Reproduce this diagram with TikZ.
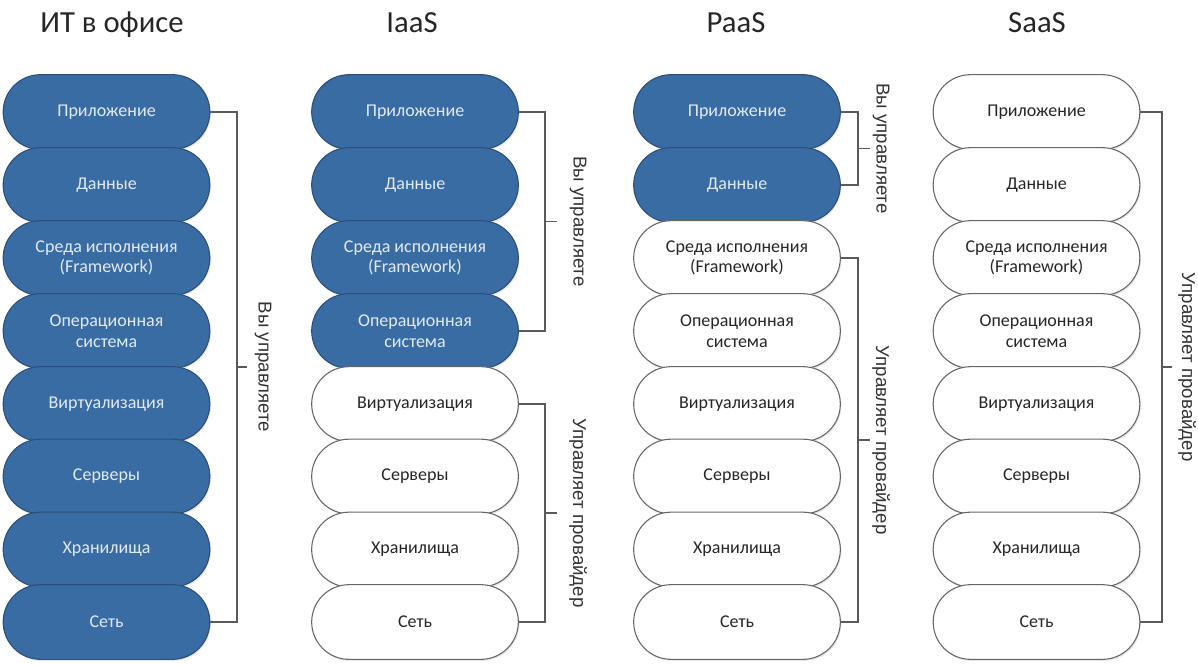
\documentclass[tikz,border=0pt]{standalone}
\usepackage{fontspec}
\setmainfont{Carlito}
\newfontfamily\lblfont{Liberation Sans}
\usepackage{tikz}
\usetikzlibrary{shapes.misc}
\usetikzlibrary{shadows}
\usetikzlibrary{positioning}
\definecolor{layerblue}{RGB}{58,108,164}
\definecolor{layeredge}{RGB}{44,78,120}
\definecolor{layertext}{RGB}{225,234,244}
\definecolor{lineGray}{RGB}{90,90,90}
\tikzset{
  % common look of the stack layers
  layer/.style={rounded rectangle, minimum width=155pt, minimum height=56pt,
                inner sep=0pt, align=center, font=\fontsize{13.5}{15.5}\selectfont,
                drop shadow={opacity=0.18, shadow xshift=0.8pt, shadow yshift=-1.2pt}},
  mine/.style={layer, fill=layerblue, draw=layeredge, line width=0.8pt, text=layertext},
  theirs/.style={layer, fill=white, draw=black!60, line width=0.8pt, text=black!85}
}

\begin{document}
\begin{tikzpicture}[
    x=0.75pt, y=-0.75pt,
    title/.style={anchor=base, font=\fontsize{23}{26}\selectfont, text=black!85},
    brk/.style={draw=lineGray, line width=0.9pt},
    lbl/.style={rotate=-90, font=\lblfont\fontsize{14}{16}\selectfont, text=black!80}
]
\useasboundingbox (0,0) rectangle (1198,664);

% Titles
\node[title] (tOff) at (112,32) {ИТ в офисе};
\node[title] (tIaas) at (412,32) {IaaS};
\node[title] (tPaas) at (736,32) {PaaS};
\node[title] (tSaas) at (1037,32) {SaaS};

% IT in the office
\node[mine] (off1) at (106.5,112) {Приложение};
\node[mine] (off2) at (106.5,185) {Данные};
\node[mine] (off3) at (106.5,258) {Среда исполнения\\(Framework)};
\node[mine] (off4) at (106.5,331) {Операционная\\система};
\node[mine] (off5) at (106.5,404) {Виртуализация};
\node[mine] (off6) at (106.5,476.5) {Серверы};
\node[mine] (off7) at (106.5,549.5) {Хранилища};
\node[mine] (off8) at (106.5,622) {Сеть};

% IaaS
\node[mine] (iaas1) at (415,112) {Приложение};
\node[mine] (iaas2) at (415,185) {Данные};
\node[mine] (iaas3) at (415,258) {Среда исполнения\\(Framework)};
\node[mine] (iaas4) at (415,331) {Операционная\\система};
\node[theirs] (iaas5) at (415,404) {Виртуализация};
\node[theirs] (iaas6) at (415,476.5) {Серверы};
\node[theirs] (iaas7) at (415,549.5) {Хранилища};
\node[theirs] (iaas8) at (415,622) {Сеть};

% PaaS
\node[mine] (paas1) at (737,112) {Приложение};
\node[mine] (paas2) at (737,185) {Данные};
\node[theirs] (paas3) at (737,258) {Среда исполнения\\(Framework)};
\node[theirs] (paas4) at (737,331) {Операционная\\система};
\node[theirs] (paas5) at (737,404) {Виртуализация};
\node[theirs] (paas6) at (737,476.5) {Серверы};
\node[theirs] (paas7) at (737,549.5) {Хранилища};
\node[theirs] (paas8) at (737,622) {Сеть};

% SaaS
\node[theirs] (saas1) at (1036.5,112) {Приложение};
\node[theirs] (saas2) at (1036.5,185) {Данные};
\node[theirs] (saas3) at (1036.5,258) {Среда исполнения\\(Framework)};
\node[theirs] (saas4) at (1036.5,331) {Операционная\\система};
\node[theirs] (saas5) at (1036.5,404) {Виртуализация};
\node[theirs] (saas6) at (1036.5,476.5) {Серверы};
\node[theirs] (saas7) at (1036.5,549.5) {Хранилища};
\node[theirs] (saas8) at (1036.5,622) {Сеть};

% Brackets
\coordinate (offMid) at (237,367);
\coordinate (offTick) at (247,367);
\draw[brk] (off1.east) -| (offMid) |- (off8.east);
\draw[brk] (offMid) -- (offTick);
\node[lbl] (offLbl) at (263,367) {Вы управляете};

\coordinate (iaasUp) at (545,221.5);
\coordinate (iaasUpTick) at (557,221.5);
\draw[brk] (iaas1.east) -| (iaasUp) |- (iaas4.east);
\draw[brk] (iaasUp) -- (iaasUpTick);
\node[lbl] (iaasUpLbl) at (578,221.5) {Вы управляете};

\coordinate (iaasLow) at (545,513);
\coordinate (iaasLowTick) at (557,513);
\draw[brk] (iaas5.east) -| (iaasLow) |- (iaas8.east);
\draw[brk] (iaasLow) -- (iaasLowTick);
\node[lbl] (iaasLowLbl) at (578,513) {Управляет провайдер};

\coordinate (paasUp) at (858,148.5);
\coordinate (paasUpTick) at (870,148.5);
\draw[brk] (paas1.east) -| (paasUp) |- (paas2.east);
\draw[brk] (paasUp) -- (paasUpTick);
\node[lbl] (paasUpLbl) at (881,148.5) {Вы управляете};

\coordinate (paasLow) at (858,440);
\coordinate (paasLowTick) at (870,440);
\draw[brk] (paas3.east) -| (paasLow) |- (paas8.east);
\draw[brk] (paasLow) -- (paasLowTick);
\node[lbl] (paasLowLbl) at (881,440) {Управляет провайдер};

\coordinate (saasMid) at (1162,367);
\coordinate (saasTick) at (1172,367);
\draw[brk] (saas1.east) -| (saasMid) |- (saas8.east);
\draw[brk] (saasMid) -- (saasTick);
\node[lbl] (saasLbl) at (1187,367) {Управляет провайдер};

\end{tikzpicture}
\end{document}
